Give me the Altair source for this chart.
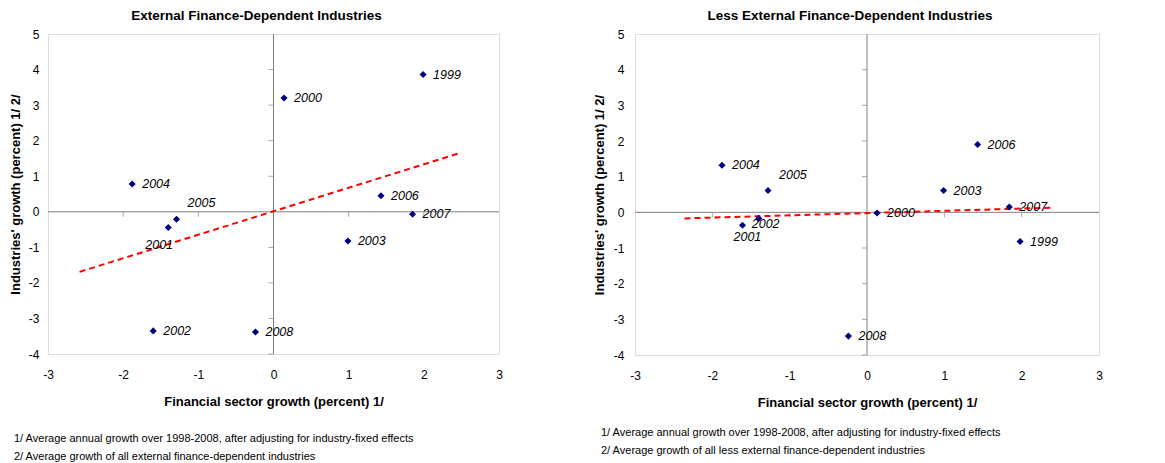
import altair as alt
import pandas as pd

# ---------------- data ----------------
years = ["1999", "2000", "2001", "2002", "2003", "2004", "2005", "2006", "2007", "2008"]

# External finance-dependent industries
ext_fin = [1.99, 0.14, -1.40, -1.60, 0.99, -1.88, -1.29, 1.43, 1.85, -0.24]
ext_ind = [3.86, 3.20, -0.44, -3.35, -0.82, 0.78, -0.21, 0.45, -0.07, -3.38]
ext_lab = ["right", "right", "belowleft", "right", "right", "right", "above", "right", "right", "right"]
ext_trend_x = [-2.58, 2.46]
ext_trend_y = [-1.69, 1.64]

# Less external finance-dependent industries
less_fin = [1.98, 0.13, -1.61, -1.40, 0.99, -1.875, -1.28, 1.43, 1.84, -0.24]
less_ind = [-0.82, -0.02, -0.36, -0.17, 0.61, 1.32, 0.61, 1.90, 0.15, -3.47]
less_lab = ["right", "right", "below", "overlap", "right", "right", "above", "right", "right", "right"]
less_trend_x = [-2.36, 2.39]
less_trend_y = [-0.17, 0.13]

x_ticks = [-3, -2, -1, 0, 1, 2, 3]
y_ticks = [-4, -3, -2, -1, 0, 1, 2, 3, 4, 5]
inner_x_ticks = [-2, -1, 1, 2]
inner_y_ticks = [-4, -3, -2, -1, 1, 2, 3, 4]

titles = ["External Finance-Dependent Industries", "Less External Finance-Dependent Industries"]
x_title = "Financial sector growth (percent) 1/"
y_title = "Industries' growth (percent) 1/ 2/"
notes_left = ["1/ Average annual growth over 1998-2008, after adjusting for industry-fixed effects",
              "2/ Average growth of all external finance-dependent industries"]
notes_right = ["1/ Average annual growth over 1998-2008, after adjusting for industry-fixed effects",
               "2/ Average growth of all less external finance-dependent industries"]

FONT = "Liberation Sans"
GRAY = "#808080"
NAVY = "#000080"


def panel(title, fin, ind, lab, tx, ty, notes, w, h, label_offsets, ypad, ytpad, note_dy):
    df = pd.DataFrame({"fin": fin, "ind": ind, "year": years, "pos": lab})
    trend = pd.DataFrame({"fin": tx, "ind": ty})
    xs = alt.Scale(domain=[-3, 3], nice=False, zero=False)
    ys = alt.Scale(domain=[-4, 5], nice=False, zero=False)
    xax = alt.Axis(values=x_ticks, labelExpr="'' + datum.value", grid=False, ticks=False, domain=False,
                   labelPadding=15, labelFontSize=12, labelFont=FONT, labelColor="black", title=x_title,
                   titleFont=FONT, titleFontSize=13, titleFontWeight="bold", titlePadding=15,
                   titleColor="black", labelOverlap=False, labelFlush=False)
    yax = alt.Axis(values=y_ticks, labelExpr="'' + datum.value", grid=False, ticks=False, domain=False,
                   labelPadding=ypad, labelFontSize=12, labelFont=FONT, labelColor="black", title=y_title,
                   titleFont=FONT, titleFontSize=13, titleFontWeight="bold", titlePadding=ytpad,
                   titleColor="black", labelOverlap=False, labelFlush=False)

    def X(f):
        return alt.X(f, scale=xs, axis=xax, title=x_title)

    def Y(f):
        return alt.Y(f, scale=ys, axis=yax, title=y_title)

    base = alt.Chart(df)
    pts = base.mark_point(shape="diamond", filled=True, size=50, color=NAVY, opacity=1).encode(
        x=X("fin:Q"), y=Y("ind:Q"))
    zx = alt.Chart(pd.DataFrame({"v": [0]})).mark_rule(color=GRAY, strokeWidth=1).encode(x=X("v:Q"))
    zy = alt.Chart(pd.DataFrame({"v": [0]})).mark_rule(color=GRAY, strokeWidth=1).encode(y=Y("v:Q"))
    tkx = alt.Chart(pd.DataFrame({"v": inner_x_ticks, "z": [0] * len(inner_x_ticks)})).mark_tick(
        orient="vertical", size=5, thickness=1, color=GRAY, yOffset=2.5).encode(
        x=X("v:Q"), y=Y("z:Q"))
    tky = alt.Chart(pd.DataFrame({"v": inner_y_ticks, "z": [0] * len(inner_y_ticks)})).mark_tick(
        orient="horizontal", size=5, thickness=1, color=GRAY, xOffset=-2.5).encode(
        y=Y("v:Q"), x=X("z:Q"))
    line = alt.Chart(trend).mark_line(color="#FF0000", strokeWidth=2, strokeDash=[6, 4]).encode(
        x=X("fin:Q"), y=Y("ind:Q"))

    labels = []
    for pos, (dx, dy) in label_offsets.items():
        labels.append(base.transform_filter(alt.datum.pos == pos).mark_text(
            align="left", baseline="middle", dx=dx, dy=dy, font=FONT, fontSize=12.5,
            fontStyle="italic", color="black").encode(
            x=X("fin:Q"), y=Y("ind:Q"), text="year:N"))

    note = alt.Chart(pd.DataFrame({"a": [0]})).mark_text(
        align="left", baseline="middle", font=FONT, fontSize=11, lineHeight=18, color="black").encode(
        x=alt.value(-34), y=alt.value(h + note_dy), text=alt.value(notes))

    return alt.layer(zx, zy, tkx, tky, line, pts, *labels, note).properties(
        width=w, height=h,
        title=alt.TitleParams(title, font=FONT, fontSize=13.5, fontWeight="bold", color="black",
                              dx=-17, offset=6),
    )


left = panel(titles[0], ext_fin, ext_ind, ext_lab, ext_trend_x, ext_trend_y, notes_left, 451, 320,
             {"right": (10, 0), "above": (11, -16), "belowleft": (-23, 18)}, 9, 6, 85)
right = panel(titles[1], less_fin, less_ind, less_lab, less_trend_x, less_trend_y, notes_right, 464, 321,
              {"right": (10, 0), "above": (11, -16), "below": (-9, 12), "overlap": (-7, 6)}, 11, 7, 78)

chart = alt.hconcat(left, right, spacing=89).properties(
    padding={"left": 0, "top": 0, "right": 0, "bottom": 0}
).configure_view(stroke=GRAY, strokeWidth=1).configure(font=FONT)

chart.save("out.html", embed_options={"renderer": "svg", "actions": False})
